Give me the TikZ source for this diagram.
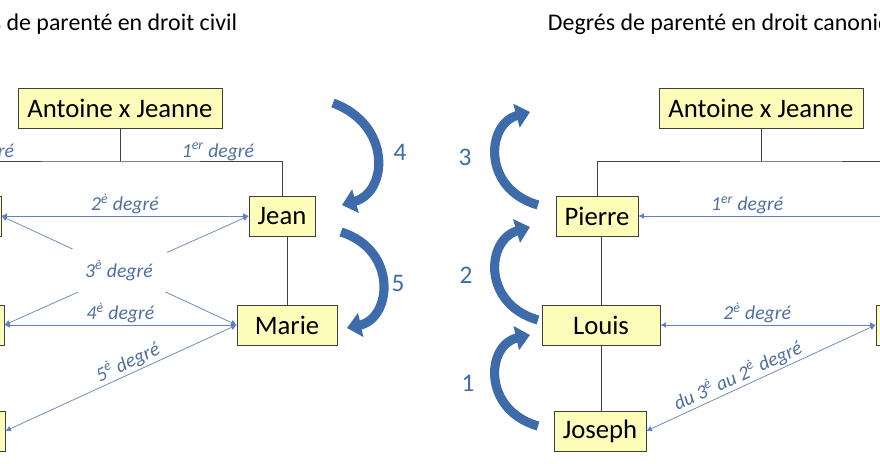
\documentclass[tikz,border=0pt]{standalone}
\usepackage{fontspec}
\setmainfont{Carlito}
\usetikzlibrary{arrows.meta}
\definecolor{boxfill}{RGB}{253,252,185}
\definecolor{lblue}{RGB}{79,111,160}
\definecolor{rblue}{RGB}{96,130,190}
\definecolor{cblue}{RGB}{62,108,170}
\tikzset{
	person/.style={draw=black!75, fill=boxfill, minimum height=1cm, font=\fontsize{19}{22}\selectfont},
	deg/.style={font=\fontsize{14}{16}\selectfont\itshape, text=lblue},
	rel/.style={draw=rblue, line width=0.5pt, {Latex[length=4pt,width=4pt]}-{Latex[length=4pt,width=4pt]}},
	genstep/.style={draw=cblue, line width=6.5pt, -{Triangle[width=17pt,length=10pt]}},
	num/.style={font=\fontsize{18}{20}\selectfont, text=cblue}
}
\begin{document}
\begin{tikzpicture}[x=0.025cm, y=-0.025cm]
		\useasboundingbox (0,0) rectangle (880,464);
		\clip (0,0) rectangle (880,464);

		%titres
		\node[anchor=base east, font=\fontsize{17}{20}\selectfont] (titleL) at (242,31) {Degrés de parenté en droit civil};
		\node[anchor=base west, font=\fontsize{17}{20}\selectfont] (titleR) at (543,31) {Degrés de parenté en droit canonique};

		%droit civil
		\node[person, minimum width=5.1cm] (ajL) at (120,108) {Antoine x Jeanne};
		\node[person, minimum width=2.05cm] (pierreL) at (-40,216) {Pierre};
		\node[person, minimum width=1.65cm] (jeanL) at (282,216) {Jean};
		\node[person, minimum width=2.95cm] (louisL) at (-55,325) {Louis};
		\node[person, minimum width=2.5cm] (marieL) at (287,325) {Marie};
		\node[person, minimum width=2.3cm] (josephL) at (-41,431) {Joseph};

		\coordinate (barL) at (120,161);
		\draw[black!75] (ajL) -- (barL);
		\draw[black!75] (pierreL.north) |- (barL) -| (jeanL.north);
		\draw[black!75] (jeanL.south -| marieL.north) -- (marieL.north);
		\draw[black!75] (pierreL) -- (louisL) -- (josephL);

		\node[deg] (d1a) at (-22,152) {1\textsuperscript{er} degré};
		\node[deg] (d1b) at (218,152) {1\textsuperscript{er} degré};
		\draw[rel] (pierreL.east) -- node[deg, above, inner sep=1pt] (d2) {2\textsuperscript{è} degré} (jeanL.west);
		\draw[rel] (jeanL.west) -- (louisL.east);
		\draw[rel] (pierreL.east) -- node[deg, fill=white, inner xsep=10pt, inner ysep=8pt] (d3) {3\textsuperscript{è} degré} (marieL.west);
		\draw[rel] (louisL.east) -- node[deg, above, inner sep=1pt] (d4) {4\textsuperscript{è} degré} (marieL.west);
		\draw[rel] (marieL.west) -- node[deg, above, sloped, pos=0.45, inner sep=1pt] (d5) {5\textsuperscript{è} degré} (josephL.east);

		\draw[genstep] (333,103) .. controls (392,125) and (388,192) .. (342,205);
		\draw[genstep] (341,232) .. controls (398,250) and (392,318) .. (347,328);
		\node[num] (n4) at (400,152) {4};
		\node[num] (n5) at (398,283) {5};

		%droit canonique
		\node[person, minimum width=5.1cm] (ajR) at (761,108) {Antoine x Jeanne};
		\node[person, minimum width=2.05cm] (pierreR) at (597,216) {Pierre};
		\node[person, minimum width=1.65cm] (jeanR) at (925,216) {Jean};
		\node[person, minimum width=2.95cm] (louisR) at (601,325) {Louis};
		\node[person, minimum width=2.5cm] (marieR) at (926,325) {Marie};
		\node[person, minimum width=2.3cm] (josephR) at (600,431) {Joseph};

		\coordinate (barR) at (761,161);
		\draw[black!75] (ajR) -- (barR);
		\draw[black!75] (pierreR.north) |- (barR) -| (jeanR.north);
		\draw[black!75] (pierreR.south -| louisR.north) -- (louisR.north);
		\draw[black!75] (louisR.south) -- (josephR.north -| louisR.south);

		\draw[rel, {Latex[length=4pt,width=4pt]}-] (pierreR.east) -- node[deg, above, pos=0.43, inner sep=1pt] (e1) {1\textsuperscript{er} degré} (jeanR.west);
		\draw[rel] (louisR.east) -- node[deg, above, pos=0.45, inner sep=1pt] (e2) {2\textsuperscript{è} degré} (marieR.west);
		\draw[rel] (josephR.east) -- node[deg, above, sloped, pos=0.42, inner sep=1pt] (e3) {du 3\textsuperscript{è} au 2\textsuperscript{è} degré} (marieR.west);

		\draw[genstep] (538,426) .. controls (482,410) and (486,345) .. (530,335);
		\draw[genstep] (538,320) .. controls (482,304) and (486,240) .. (530,227);
		\draw[genstep] (538,205) .. controls (482,189) and (486,124) .. (530,112);
		\node[num] (n3) at (465,157) {3};
		\node[num] (n2) at (466,275) {2};
		\node[num] (n1) at (468,383) {1};
	\end{tikzpicture}
\end{document}
